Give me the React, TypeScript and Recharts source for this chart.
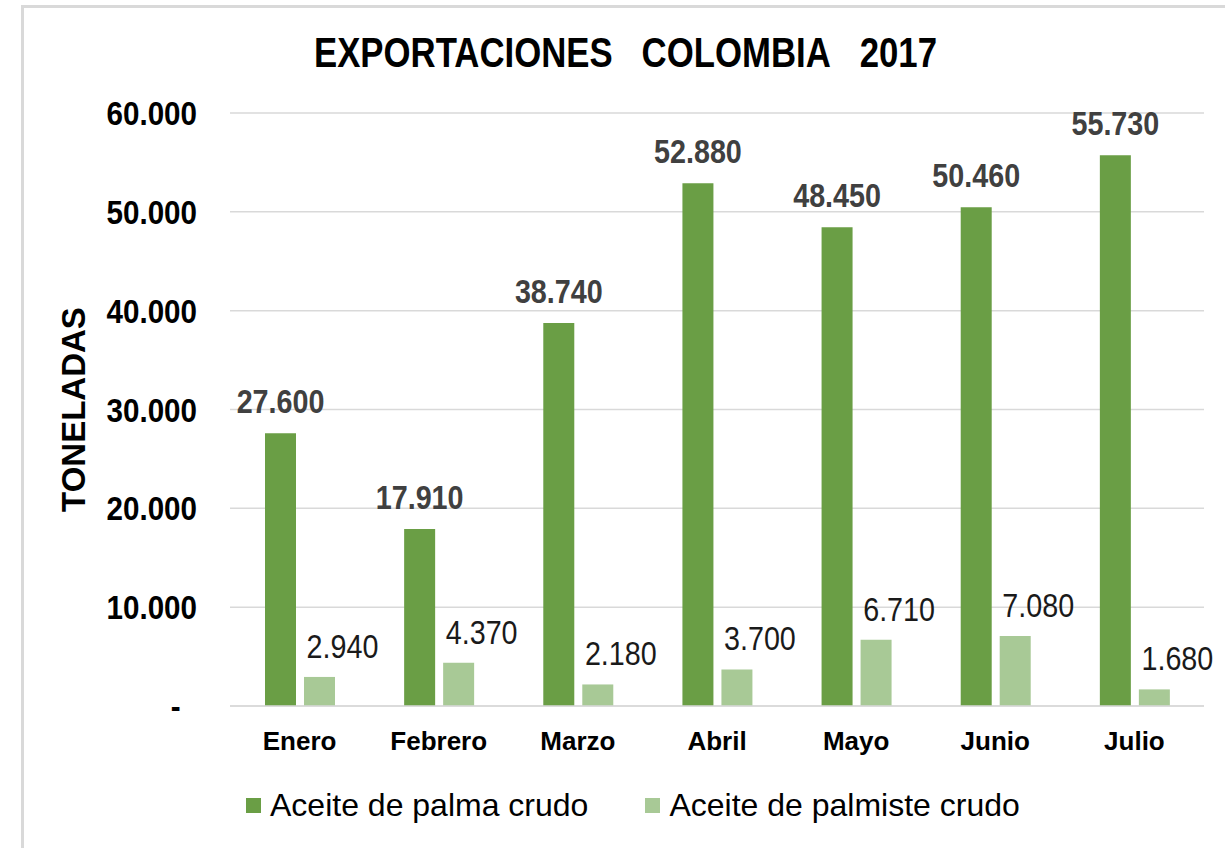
import React from 'react'
import { Bar, BarChart, CartesianGrid, LabelList, Legend, XAxis, YAxis } from 'recharts'

const months = ['Enero', 'Febrero', 'Marzo', 'Abril', 'Mayo', 'Junio', 'Julio']
const palmaCrudo = [27600, 17910, 38740, 52880, 48450, 50460, 55730]
const palmisteCrudo = [2940, 4370, 2180, 3700, 6710, 7080, 1680]
const yTicks = [0, 10000, 20000, 30000, 40000, 50000, 60000]
const seriesNames = ['Aceite de palma crudo', 'Aceite de palmiste crudo']

const sans = '"Liberation Sans", Arial, sans-serif'

const fmt = (v: number) =>
  v === 0 ? '-\u00a0\u00a0' : String(v).replace(/\B(?=(\d{3})+(?!\d))/g, '.')

const data = months.map((mes, i) => ({
  mes,
  palma: palmaCrudo[i],
  palmiste: palmisteCrudo[i]
}))

// the source uses a condensed face, so squeeze the text horizontally
const makeLabel = (o: { dx: number; offset: number; fill: string; bold: boolean }) => (props: any) => {
  const cx = Number(props.x) + Number(props.width) / 2 + o.dx
  const by = Number(props.y) - o.offset
  return (
    <text
      transform={`translate(${cx},${by}) scale(0.87,1)`}
      textAnchor="middle"
      fontFamily={sans}
      fontWeight={o.bold ? 'bold' : 'normal'}
      fontSize={33}
      fill={o.fill}
    >
      {fmt(Number(props.value))}
    </text>
  )
}

const YTick = (props: any) => (
  <text
    transform={`translate(${props.x},${props.y}) scale(0.87,1)`}
    textAnchor="end"
    dy="0.355em"
    fontFamily={sans}
    fontWeight="bold"
    fontSize={34}
    fill="#000"
  >
    {fmt(props.payload.value)}
  </text>
)

const LegendBox = ({ payload }: any) => (
  <div style={{ display: 'flex', alignItems: 'center', height: 40, fontFamily: sans, fontSize: 32, color: '#000' }}>
    {(payload || []).map((p: any, i: number) => (
      <span key={i} style={{ display: 'flex', alignItems: 'center', marginRight: 57 }}>
        <span style={{ width: 15, height: 15, background: p.color, marginRight: 9 }} />
        {p.value}
      </span>
    ))}
  </div>
)

export default function App() {
  return (
    <div style={{ position: 'absolute', left: 0, top: 0, width: 1225, height: 848, background: '#fff', overflow: 'hidden' }}>
      <div
        style={{
          position: 'absolute',
          left: 21,
          top: 5,
          width: 1210,
          height: 850,
          borderTop: '3px solid #d9d9d9',
          borderLeft: '3px solid #d9d9d9'
        }}
      />
      <svg style={{ position: 'absolute', left: 0, top: 0 }} width={1225} height={100}>
        <text
          x={625.5}
          y={67}
          textAnchor="middle"
          textLength={623}
          lengthAdjust="spacingAndGlyphs"
          fontFamily={sans}
          fontWeight="bold"
          fontSize={42}
          fill="#000"
        >
          {'EXPORTACIONES\u00a0\u00a0\u00a0COLOMBIA\u00a0\u00a0\u00a02017'}
        </text>
      </svg>
      <div style={{ position: 'absolute', left: 0, top: 0 }}>
        <BarChart
          width={1225}
          height={848}
          data={data}
          margin={{ top: 113, right: 21, bottom: 42, left: 110 }}
          barSize={31}
          barGap={8}
        >
          <CartesianGrid vertical={false} stroke="#d9d9d9" strokeWidth={1.5} />
          <XAxis
            dataKey="mes"
            height={60}
            tickSize={0}
            tickMargin={26}
            axisLine={{ stroke: '#d9d9d9', strokeWidth: 1.5 }}
            tick={{ fill: '#000', fontFamily: sans, fontWeight: 'bold', fontSize: 26 }}
          />
          <YAxis
            width={120}
            domain={[0, 60000]}
            ticks={yTicks}
            tickSize={0}
            tickMargin={33}
            axisLine={false}
            tickLine={false}
            tick={<YTick />}
            label={{
              content: ({ viewBox }: any) => {
                const x = viewBox.x - 25
                const y = viewBox.y + viewBox.height / 2
                return (
                  <text
                    x={x}
                    y={y}
                    transform={`rotate(-90 ${x} ${y})`}
                    textAnchor="middle"
                    fontFamily={sans}
                    fontWeight="bold"
                    fontSize={33}
                    fill="#000"
                  >
                    TONELADAS
                  </text>
                )
              }
            }}
          />
          <Legend
            verticalAlign="bottom"
            content={<LegendBox />}
            wrapperStyle={{ left: 246, top: 785, width: 'auto' }}
          />
          <Bar dataKey="palma" name={seriesNames[0]} fill="#6a9e45" isAnimationActive={false}>
            <LabelList
              dataKey="palma"
              content={makeLabel({ dx: 0, offset: 20, fill: '#404040', bold: true })}
            />
          </Bar>
          <Bar dataKey="palmiste" name={seriesNames[1]} fill="#a8c996" isAnimationActive={false}>
            <LabelList
              dataKey="palmiste"
              content={makeLabel({ dx: 23, offset: 19, fill: '#1a1a1a', bold: false })}
            />
          </Bar>
        </BarChart>
      </div>
    </div>
  )
}
